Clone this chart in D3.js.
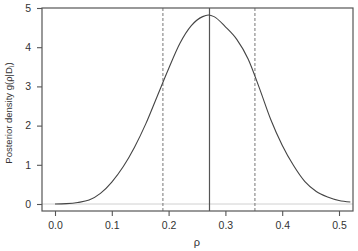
<!DOCTYPE html>
<html>
<head>
<meta charset="utf-8">
<script src="https://cdn.jsdelivr.net/npm/d3@7"></script>
<style>
  body { margin: 0; background: #fff; }
  text { font-family: "Liberation Sans", Arial, sans-serif; fill: #333; }
</style>
</head>
<body>
<div id="chart"></div>
<script>
// posterior density curve
var rho = [0, 0.02, 0.04, 0.06, 0.08, 0.10, 0.12, 0.14, 0.16, 0.18, 0.20, 0.22, 0.24, 0.26, 0.27, 0.28, 0.30, 0.32, 0.34, 0.36, 0.38, 0.40, 0.42, 0.44, 0.46, 0.48, 0.50, 0.52]
var density = [0, 0.01, 0.04, 0.10, 0.27, 0.56, 0.95, 1.45, 2.05, 2.75, 3.45, 4.1, 4.55, 4.78, 4.82, 4.78, 4.52, 4.2, 3.7, 2.95, 2.15, 1.5, 0.98, 0.57, 0.32, 0.18, 0.09, 0.05]
var refLines = [0.19, 0.272, 0.352]   // lower, mode, upper
var refDashed = [true, false, true]
var xTicks = [0, 0.1, 0.2, 0.3, 0.4, 0.5]
var yTicks = [0, 1, 2, 3, 4, 5]

var width = 358, height = 251
var box = {left: 42, right: 353, top: 8, bottom: 211}

var svg = d3.select("#chart").append("svg")
    .attr("width", width)
    .attr("height", height)

var x = d3.scaleLinear().domain([0, 0.5]).range([55, 339])
var y = d3.scaleLinear().domain([0, 5]).range([204, 8])

// zero line
svg.append("line")
    .attr("x1", box.left).attr("x2", box.right)
    .attr("y1", y(0)).attr("y2", y(0))
    .attr("stroke", "#d0d0d0")
    .attr("stroke-width", 1)

// vertical reference lines
svg.selectAll(".ref")
    .data(refLines)
    .enter().append("line")
    .attr("class", "ref")
    .attr("x1", d => x(d)).attr("x2", d => x(d))
    .attr("y1", box.top).attr("y2", box.bottom)
    .attr("stroke", (d, i) => refDashed[i] ? "#777" : "#555")
    .attr("stroke-width", (d, i) => refDashed[i] ? 1 : 1.2)
    .attr("stroke-dasharray", (d, i) => refDashed[i] ? "3,2" : null)

var pts = rho.map((r, i) => [r, density[i]])

svg.append("path")
    .datum(pts)
    .attr("fill", "none")
    .attr("stroke", "#444")
    .attr("stroke-width", 1.1)
    .attr("d", d3.line()
        .x(d => x(d[0]))
        .y(d => y(d[1]))
        .curve(d3.curveMonotoneX))

// box
svg.append("rect")
    .attr("x", box.left).attr("y", box.top)
    .attr("width", box.right - box.left)
    .attr("height", box.bottom - box.top)
    .attr("fill", "none")
    .attr("stroke", "#555")
    .attr("stroke-width", 1.2)

// x axis
var xAxis = svg.append("g")
    .attr("transform", "translate(0," + box.bottom + ")")
    .call(d3.axisBottom(x).tickValues(xTicks).tickFormat(d3.format(".1f")).tickSize(5).tickPadding(6))
xAxis.select(".domain").remove()
xAxis.selectAll("line").attr("stroke", "#555").attr("stroke-width", 1.1)
xAxis.selectAll("text").style("font-size", "10.5px").attr("fill", "#333")

// y axis
var yAxis = svg.append("g")
    .attr("transform", "translate(" + box.left + ",0)")
    .call(d3.axisLeft(y).tickValues(yTicks).tickFormat(d3.format("d")).tickSize(5).tickPadding(6))
yAxis.select(".domain").remove()
yAxis.selectAll("line").attr("stroke", "#555").attr("stroke-width", 1.1)
yAxis.selectAll("text").style("font-size", "10.5px").attr("fill", "#333")

// axis titles
svg.append("text")
    .attr("x", x(0.25)).attr("y", 246)
    .attr("text-anchor", "middle")
    .style("font-size", "11px")
    .text("ρ")

var yl = svg.append("text")
    .attr("transform", "translate(12," + 113 + ") rotate(-90)")
    .attr("text-anchor", "middle")
    .style("font-size", "9.5px")
yl.append("tspan").text("Posterior density g(ρ|D")
yl.append("tspan").attr("dy", 2).style("font-size", "7px").text("i")
yl.append("tspan").attr("dy", -2).text(")")
</script>
</body>
</html>
